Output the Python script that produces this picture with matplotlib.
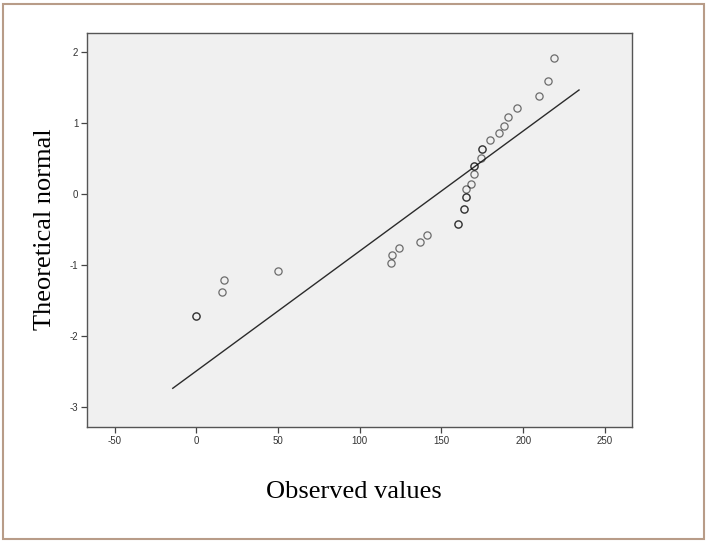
import matplotlib
matplotlib.use("Agg")
import matplotlib.pyplot as plt
from matplotlib.patches import Rectangle

# Data (duplicates = overlapping/tied points)
observed = [0, 0, 16, 17, 50, 119, 120, 124, 137, 141,
            160, 160, 164, 164, 165, 165, 165, 168, 170, 170,
            170, 174, 175, 175, 180, 185, 188, 191, 196, 210, 215, 219]
theoretical = [-1.725, -1.725, -1.382, -1.218, -1.081, -0.969, -0.860, -0.766, -0.677, -0.583,
               -0.428, -0.428, -0.212, -0.212, -0.038, -0.038, 0.075, 0.141, 0.282, 0.395,
               0.395, 0.508, 0.630, 0.630, 0.766, 0.860, 0.963, 1.082, 1.217, 1.382, 1.590, 1.914]
line_x = [-14.4, 234.2]
line_y = [-2.74, 1.467]
x_ticks = [-50, 0, 50, 100, 150, 200, 250]
y_ticks = [-3, -2, -1, 0, 1, 2]

fig = plt.figure(figsize=(7.07, 5.43), dpi=100)
fig.patch.set_facecolor("white")
fig.patches.append(Rectangle((3 / 707, 4 / 543), 701 / 707, 535 / 543, transform=fig.transFigure,
                             fill=False, edgecolor="#b89c88", linewidth=1.5))

ax = fig.add_axes([87.3 / 707, 1 - 427 / 543, (632.3 - 87.3) / 707, (427 - 32.7) / 543])
ax.set_facecolor("#f0f0f0")

ax.plot(line_x, line_y, color="#2b2b2b", linewidth=1.0, zorder=2)
ax.plot(observed, theoretical, linestyle="none", marker="o", markersize=5.2,
        markerfacecolor="none", markeredgecolor=(0, 0, 0, 0.55), markeredgewidth=0.9, zorder=3)

ax.set_xlim(-66.7, 266.8)
ax.set_ylim(-3.286, 2.275)
ax.set_xticks(x_ticks)
ax.set_yticks(y_ticks)
ax.set_xticklabels([str(v) for v in x_ticks], family="Liberation Sans", fontsize=7, color="#333333")
ax.set_yticklabels([str(v) for v in y_ticks], family="Liberation Sans", fontsize=7, color="#333333")
ax.tick_params(direction="out", length=4.5, width=0.9, color="#444444", pad=2)
for s in ax.spines.values():
    s.set_color("#555555")
    s.set_linewidth(1.0)

fig.text(354 / 707, 1 - 492 / 543, "Observed values", family="Liberation Serif", fontsize=19,
         ha="center", va="center", color="black")
fig.text(45 / 707, 1 - 229 / 543, "Theoretical normal", family="Liberation Serif", fontsize=19,
         ha="center", va="center", rotation=90, color="black")

fig.savefig("out.png", dpi=100)
